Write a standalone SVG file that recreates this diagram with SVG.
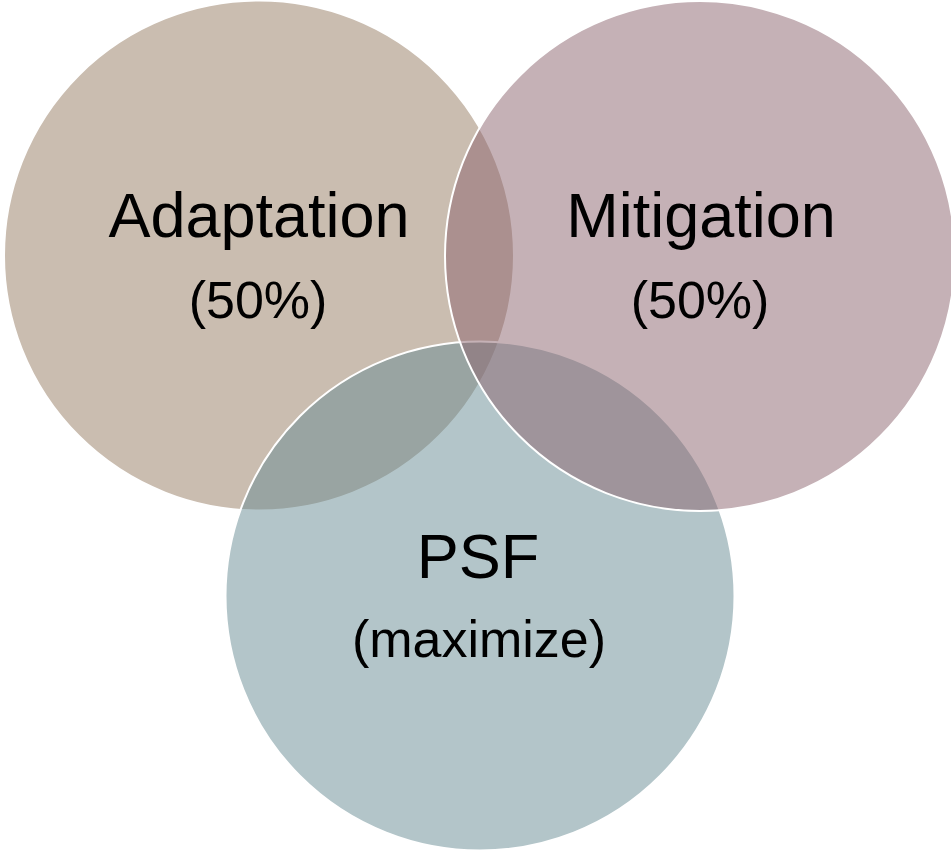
<svg xmlns="http://www.w3.org/2000/svg" width="951" height="850" viewBox="0 0 951 850">
  <style>
    .set { fill-opacity: 0.5; stroke: #ffffff; stroke-width: 2; }
    .title { font-family: "Liberation Sans", Arial, sans-serif; font-size: 63px; fill: #000000; text-anchor: middle; }
    .sub { font-family: "Liberation Sans", Arial, sans-serif; font-size: 52px; fill: #000000; text-anchor: middle; }
  </style>
  <rect width="951" height="850" fill="#ffffff"/>
  <!-- Venn sets: drawn bottom to top -->
  <g id="adaptation">
    <circle class="set" cx="259" cy="255.5" r="255" fill="#957B61"/>
  </g>
  <g id="psf">
    <circle class="set" cx="480" cy="596" r="254.5" fill="#678B93"/>
  </g>
  <g id="mitigation">
    <circle class="set" cx="700" cy="256" r="255" fill="#8B636D"/>
  </g>
  <!-- labels -->
  <g id="labels">
    <text class="title" x="259" y="237">Adaptation</text>
    <text class="sub" x="258" y="318">(50%)</text>
    <text class="title" x="701" y="237">Mitigation</text>
    <text class="sub" x="700" y="318">(50%)</text>
    <text class="title" x="478" y="578">PSF</text>
    <text class="sub" x="479" y="657">(maximize)</text>
  </g>
</svg>
